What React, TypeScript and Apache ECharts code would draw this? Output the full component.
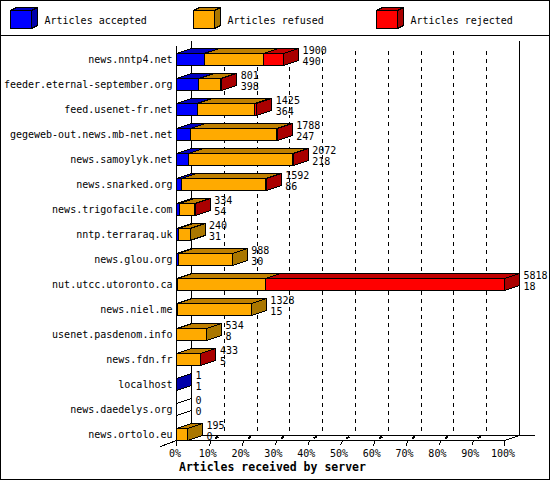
import React, { useEffect, useRef } from "react";
import * as echarts from "echarts";

const categories = ["news.nntp4.net","feeder.eternal-september.org","feed.usenet-fr.net","gegeweb-out.news.mb-net.net","news.samoylyk.net","news.snarked.org","news.trigofacile.com","nntp.terraraq.uk","news.glou.org","nut.utcc.utoronto.ca","news.niel.me","usenet.pasdenom.info","news.fdn.fr","localhost","news.daedelys.org","news.ortolo.eu"];
const totals = [1900,801,1425,1788,2072,1592,334,240,988,5818,1328,534,433,1,0,195];
const accepted = [490,398,364,247,218,86,54,31,30,18,15,8,5,1,0,0];
const refused = [1057,377,1014,1535,1840,1490,270,209,958,1555,1313,526,420,0,0,195];
const rejected = [353,26,47,6,14,16,10,0,0,4245,0,0,8,0,0,0];
const gridTicks = [10,20,30,40,50,60,70,80,90];
const legendNames = ["Articles accepted","Articles refused","Articles rejected"];
const axisTitle = "Articles received by server";
const MAX = 5818;
const FONT = "'DejaVu Sans Mono', monospace";

const FRONT = ["#0000ff","#ffaa00","#ff0000"];
const TOP = ["#0000c0","#c08000","#c00000"];
const SIDE = ["#0000aa","#aa7700","#aa0000"];
const DX = 15, DY = 5, HALF = 6;
const LS = { stroke: "#000", lineWidth: 1 };

const poly = (points: number[][], fill: string) => ({ type: "polygon", shape: { points }, style: { fill, ...LS } });
const seg = (x1: number, y1: number, x2: number, y2: number, extra: any = {}) => ({
  type: "line", shape: { x1, y1, x2, y2 }, style: { ...LS, ...extra },
});

function renderBar(params: any, api: any) {
  const i = params.dataIndex;
  const stacks = [accepted[i], refused[i], rejected[i]];
  const cy = api.coord([0, i])[1];
  const x0 = api.coord([0, i])[0];
  const children: any[] = [];
  let cum = 0, last = -1;
  stacks.forEach((v, k) => {
    if (v <= 0) return;
    const a = api.coord([(cum / MAX) * 100, i])[0];
    cum += v;
    const b = api.coord([(cum / MAX) * 100, i])[0];
    last = k;
    children.push(poly([[a, cy - HALF], [a + DX, cy - HALF - DY], [b + DX, cy - HALF - DY], [b, cy - HALF]], TOP[k]));
    children.push({ type: "rect", shape: { x: a, y: cy - HALF, width: b - a, height: 2 * HALF }, style: { fill: FRONT[k], ...LS } });
  });
  const end = api.coord([(totals[i] / MAX) * 100, i])[0];
  const endX = Math.max(end, x0);
  children.push(poly([[endX, cy - HALF], [endX + DX, cy - HALF - DY], [endX + DX, cy + HALF - DY], [endX, cy + HALF]], last >= 0 ? SIDE[last] : "rgba(0,0,0,0)"));
  const txt = (t: number, y: number) => ({
    type: "text",
    style: { text: String(t), x: endX + DX + 4, y, font: `10px ${FONT}`, fill: "#000", textAlign: "left", textVerticalAlign: "middle" },
  });
  children.push(txt(totals[i], cy - 9), txt(accepted[i], cy + 2));
  return { type: "group", children };
}

function renderFrame(_p: any, api: any) {
  const lastCy = api.coord([0, categories.length - 1])[1];
  const firstCy = api.coord([0, 0])[1];
  const floorFront = lastCy + HALF;
  const floorBack = floorFront - DY;
  const left = api.coord([0, 0])[0];
  const right = api.coord([100, 0])[0];
  const top = firstCy - 19;
  const children: any[] = [
    seg(left, firstCy - 14, left, floorFront + 5),
    seg(left + DX, top, left + DX, floorBack),
    seg(right + DX, top, right + DX, floorBack),
    seg(left + DX, floorBack, right + 2 * DX, floorBack),
    seg(left, floorFront, right, floorFront),
    seg(right, floorFront, right + DX, floorBack),
    seg(right, floorFront, right, floorFront + 5),
    seg(left - 16, floorFront + 6, left, floorFront),
  ];
  gridTicks.forEach((t) => {
    const x = api.coord([t, 0])[0];
    children.push(seg(x + DX, firstCy - 9, x + DX, floorBack, { lineDash: [4, 4] }));
    children.push(seg(x + 6, floorFront - 2, x + 9, floorFront - 4, { lineWidth: 2 }));
    children.push(seg(x, floorFront + 5, x + 2, floorFront));
  });
  return { type: "group", children };
}

const legendGraphics = () => {
  const lefts = [10.5, 193.5, 376.5];
  const out: any[] = [];
  legendNames.forEach((name, k) => {
    const x = lefts[k];
    const y = 10.5, w = 21, h = 18, dx = 6, dy = 3;
    out.push({ type: "polygon", shape: { points: [[x, y], [x + dx, y - dy], [x + w + dx, y - dy], [x + w, y]] }, style: { fill: TOP[k], ...LS } });
    out.push({ type: "polygon", shape: { points: [[x + w, y], [x + w + dx, y - dy], [x + w + dx, y + h - dy], [x + w, y + h]] }, style: { fill: SIDE[k], ...LS } });
    out.push({ type: "rect", shape: { x, y, width: w, height: h }, style: { fill: FRONT[k], ...LS } });
    out.push({ type: "text", x: x + 34, y: 20, style: { text: name, font: `10px ${FONT}`, fill: "#000", textVerticalAlign: "middle" } });
  });
  return out;
};

export default function App() {
  const ref = useRef<HTMLDivElement>(null);
  useEffect(() => {
    const chart = echarts.init(ref.current!, null, { renderer: "svg" });
    chart.setOption({
      animation: false,
      backgroundColor: "#fff",
      title: {
        text: axisTitle, left: 179, top: 461, padding: 0,
        textStyle: { fontFamily: FONT, fontSize: 11.5, fontWeight: "bold", color: "#000" },
      },
      grid: { left: 176.5, top: 47, width: 328, height: 400, containLabel: false },
      xAxis: {
        type: "value", min: 0, max: 100, interval: 10, offset: -6.5,
        axisLine: { show: false },
        axisTick: { show: false },
        splitLine: { show: false },
        axisLabel: { formatter: "{value}%", fontFamily: FONT, fontSize: 10, color: "#000", margin: 8, padding: [0, 3, 0, 0], hideOverlap: false },
      },
      yAxis: {
        type: "category", inverse: true, data: categories,
        axisLine: { show: false }, axisTick: { show: false },
        axisLabel: { fontFamily: FONT, fontSize: 10, color: "#000", margin: 4, interval: 0 },
      },
      graphic: [
        { type: "rect", shape: { x: 0.5, y: 0.5, width: 549, height: 479 }, style: { fill: "none", ...LS } },
        { type: "line", shape: { x1: 0, y1: 35.5, x2: 550, y2: 35.5 }, style: LS },
        ...legendGraphics(),
      ],
      series: [
        { type: "custom", data: [[0, 0]], encode: { x: 0, y: 1 }, renderItem: renderFrame, clip: false, silent: true, z: 1 },
        { type: "custom", data: categories.map((_, i) => [(totals[i] / MAX) * 100, i]), encode: { x: 0, y: 1 }, renderItem: renderBar, clip: false, silent: true, z: 3 },
      ],
    });
    return () => chart.dispose();
  }, []);
  return (
    <>
      <style>{"svg path,svg line,svg polygon,svg rect{shape-rendering:crispEdges}"}</style>
      <div ref={ref} style={{ position: "absolute", left: 0, top: 0, width: 550, height: 480 }} />
    </>
  );
}
